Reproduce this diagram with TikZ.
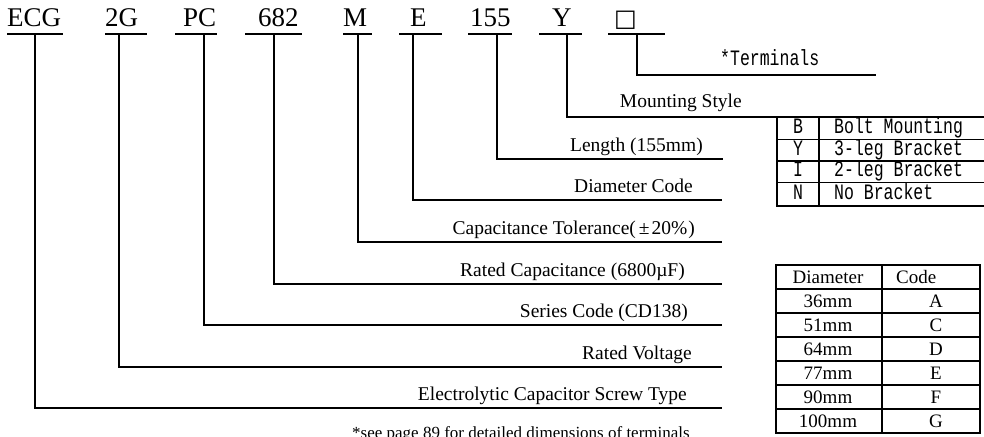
\documentclass[tikz,border=0pt]{standalone}
\usepackage{fontspec}
\setmainfont{Liberation Serif}
\newfontfamily\monof[FakeStretch=0.75]{Liberation Mono}
\newfontfamily\symf{DejaVu Sans}
\begin{document}
\begin{tikzpicture}[x=1pt,y=-1pt,
  ln/.style={line width=1.3pt},
  tl/.style={inner sep=0pt, anchor=base west, font=\fontsize{27}{27}\selectfont},
  lab/.style={inner sep=0pt, anchor=base east, font=\fontsize{19.5}{20}\selectfont},
  mono/.style={inner sep=0pt, font=\monof\fontsize{22}{22}\selectfont},
  cell/.style={inner sep=0pt, anchor=base, font=\fontsize{19}{20}\selectfont}]
\useasboundingbox (0,0) rectangle (984,436);
\clip (0,0) rectangle (984,436);
\fill[white] (0,0) rectangle (984,436);

% top code letters
\node[tl] (cECG) at (7,27) {ECG};
\node[tl] (c2G)  at (105,27) {2G};
\node[tl] (cPC)  at (183,27) {PC};
\node[tl] (c682) at (258,27) {682};
\node[tl] (cM)   at (343,27) {M};
\node[tl] (cE)   at (410,27) {E};
\node[tl] (c155) at (470,27) {155};
\node[tl] (cY)   at (552,27) {Y};
\node[inner sep=0pt, anchor=base west, font=\symf\fontsize{24}{24}\selectfont] (cT) at (614,27) {□};

% underlines
\foreach \a/\b/\n in {7/63/ECG,105/147/2G,175/217/PC,245/302/682,343/372/M,399/442/E,468/512/155,539/582/Y,608/665/T}{
  \coordinate (u\n a) at (\a,34);
  \coordinate (u\n b) at (\b,34);
  \draw[ln] (u\n a) -- (u\n b);
}

% stems and leader lines
\foreach \s/\y/\e/\n in {35/408/722/ECG,119/367/722/2G,204/325/722/PC,274/284/722/682,358/242/722/M,413/200/722/E,497/159/723/155,567/117/984/Y,637/75/876/T}{
  \coordinate (s\n) at (\s,34);
  \coordinate (e\n) at (\e,\y);
  \draw[ln] (s\n) |- (e\n);
}

% labels
\node[mono, anchor=base west] (lT) at (720,66) {*Terminals};
\node[lab] (lY)   at (742,107) {Mounting Style};
\node[lab] (l155) at (703,151) {Length (155mm)};
\node[lab] (lE)   at (693,192) {Diameter Code};
\node[lab] (lM)   at (695,234) {Capacitance Tolerance(\hspace{3pt}±\hspace{2pt}20\%\hspace{1pt})};
\node[lab] (l682) at (685,276) {Rated Capacitance (6800µF)};
\node[lab] (lPC)  at (688,317) {Series Code (CD138)};
\node[lab] (l2G)  at (692,359) {Rated Voltage};
\node[lab] (lECG) at (687,400) {Electrolytic Capacitor Screw Type};
\node[inner sep=0pt, anchor=base west, font=\fontsize{17}{17}\selectfont] (foot) at (352,438) {*see page 89 for detailed dimensions of terminals};

% mounting table
\coordinate (mTL) at (777,117);
\coordinate (mBL) at (777,206);
\coordinate (mTM) at (819,117);
\coordinate (mBM) at (819,206);
\coordinate (mBR) at (984,206);
\draw[ln] (mTL) -- (mBL) -- (mBR);
\draw[ln] (mTM) -- (mBM);
\foreach \yy [count=\i] in {139.5,161,182.5}{
  \coordinate (mr\i a) at (777,\yy);
  \coordinate (mr\i b) at (984,\yy);
  \draw[ln] (mr\i a) -- (mr\i b);
}
\foreach \k/\t/\yy [count=\i] in {B/Bolt Mounting/133,Y/3-leg Bracket/155,I/2-leg Bracket/176.5,N/No Bracket/199}{
  \node[mono, anchor=base] (mk\i) at (798,\yy) {\k};
  \node[mono, anchor=base west] (mt\i) at (834,\yy) {\t};
}

% diameter table
\coordinate (dTL) at (776,265);
\coordinate (dBR) at (980,433);
\draw[ln] (dTL) rectangle (dBR);
\coordinate (dTM) at (882,265);
\coordinate (dBM) at (882,433);
\draw[ln] (dTM) -- (dBM);
\foreach \yy [count=\i] in {289,313,337,361,385,409}{
  \coordinate (dr\i a) at (776,\yy);
  \coordinate (dr\i b) at (980,\yy);
  \draw[ln] (dr\i a) -- (dr\i b);
}
\node[cell] (dh1) at (828,283) {Diameter};
\node[cell, anchor=base west] (dh2) at (896,283) {Code};
\foreach \d/\c/\yy [count=\i] in {36mm/A/307,51mm/C/331,64mm/D/355,77mm/E/379,90mm/F/403,100mm/G/427}{
  \node[cell] (dd\i) at (828,\yy) {\d};
  \node[cell] (dc\i) at (936,\yy) {\c};
}
\end{tikzpicture}
\end{document}
